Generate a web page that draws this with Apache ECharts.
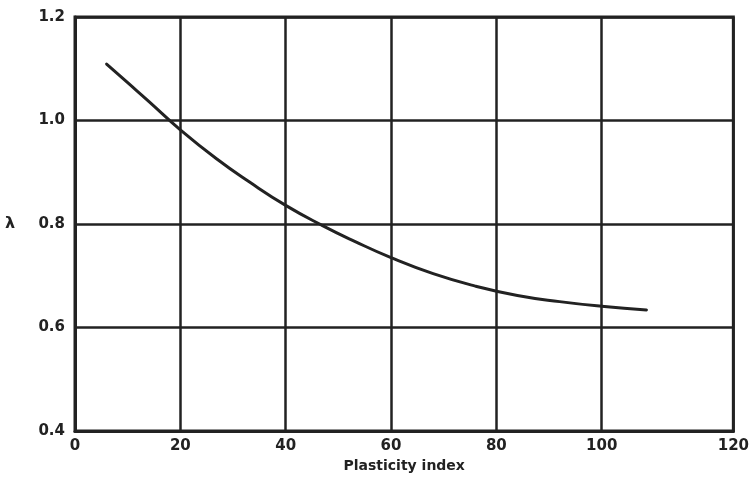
<!DOCTYPE html>
<html>
<head>
<meta charset="utf-8">
<script src="https://cdn.jsdelivr.net/npm/echarts@6/dist/echarts.min.js"></script>
<style>html,body{margin:0;padding:0;background:#fff}#c{width:752px;height:481px}</style>
</head>
<body>
<div id="c"></div>
<script>
// Data
const plasticityIndex = [6, 10, 14, 20, 27, 33, 40, 47, 53, 60, 68, 76, 84, 92, 100, 108.5];
const lambdaValues   = [1.109, 1.073, 1.037, 0.982, 0.925, 0.882, 0.836, 0.797, 0.767, 0.735, 0.704, 0.68, 0.662, 0.65, 0.641, 0.634];
const xTickLabels = ['0', '20', '40', '60', '80', '100', '120'];
const yTickLabels = ['0.4', '0.6', '0.8', '1.0', '1.2'];
const xName = 'Plasticity index';
const yName = 'λ';

const ink = '#222';
const font = 'DejaVu Sans';
// The printed axis has a wider last column: its right border (labelled 120) sits at 125 on the 0-100 scale
const xEdge = 125;

const chart = echarts.init(document.getElementById('c'), null, {renderer: 'canvas'});
chart.setOption({
  animation: false,
  backgroundColor: '#fff',
  grid: {left: 75, right: 16, top: 17, bottom: 50, show: true, borderColor: ink, borderWidth: 3, backgroundColor: 'transparent'},
  xAxis: {
    type: 'value', min: 0, max: xEdge, interval: 20,
    name: xName, nameLocation: 'middle', nameGap: 28,
    nameTextStyle: {fontFamily: font, fontWeight: 'bold', fontSize: 14, color: ink},
    axisLine: {show: true, lineStyle: {color: ink, width: 3}},
    axisTick: {show: false},
    axisLabel: {
      margin: 8, fontFamily: font, fontWeight: 'bold', fontSize: 15, color: ink,
      formatter: function (v) {
        if (v === xEdge) return xTickLabels[6];
        const i = Math.round(v / 20);
        return (i < 6 && Math.abs(v - i * 20) < 1e-6) ? xTickLabels[i] : '';
      }
    },
    splitLine: {show: true, lineStyle: {color: [ink, ink, ink, ink, ink, ink, 'rgba(0,0,0,0)', ink], width: 2.5}}
  },
  yAxis: {
    type: 'value', min: 0.4, max: 1.2, interval: 0.2,
    name: yName, nameLocation: 'middle', nameRotate: 0, nameGap: 60,
    nameTextStyle: {fontFamily: font, fontWeight: 'bold', fontSize: 16, color: ink},
    axisLine: {show: true, lineStyle: {color: ink, width: 3}},
    axisTick: {show: false},
    axisLabel: {
      margin: 10, fontFamily: font, fontWeight: 'bold', fontSize: 15, color: ink,
      formatter: function (v) { return yTickLabels[Math.round((v - 0.4) / 0.2)]; }
    },
    splitLine: {show: true, lineStyle: {color: ink, width: 2.5}}
  },
  series: [{
    type: 'line',
    data: plasticityIndex.map((x, i) => [x, lambdaValues[i]]),
    smooth: 0.5,
    showSymbol: false,
    lineStyle: {color: ink, width: 3, cap: 'round'}
  }]
});
</script>
</body>
</html>
